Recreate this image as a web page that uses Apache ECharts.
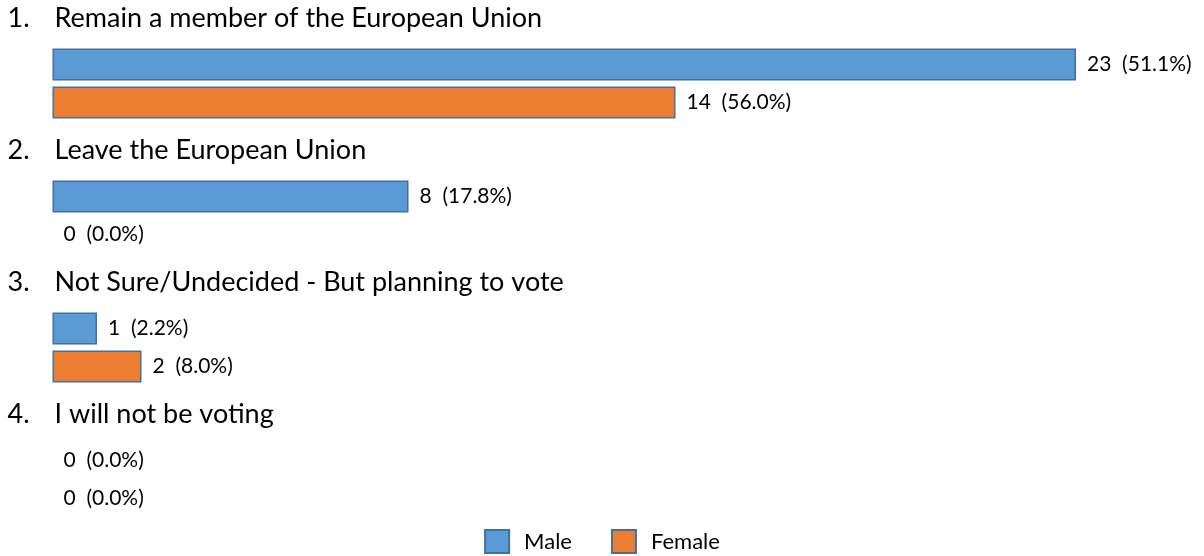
<!DOCTYPE html>
<html>
<head>
<meta charset="utf-8">
<script src="https://cdn.jsdelivr.net/npm/echarts@6/dist/echarts.min.js"></script>
<style>
  html, body { margin: 0; padding: 0; background: #ffffff; }
  #chart { width: 1204px; height: 556px; }
</style>
</head>
<body>
<div id="chart"></div>
<script>
// ---- data ----
const questions = [
  'Remain a member of the European Union',
  'Leave the European Union',
  'Not Sure/Undecided - But planning to vote',
  'I will not be voting'
];
const seriesNames = ['Male', 'Female'];
const maleCounts = [23, 8, 1, 0];
const malePct = [51.1, 17.8, 2.2, 0.0];
const femaleCounts = [14, 0, 2, 0];
const femalePct = [56.0, 0.0, 8.0, 0.0];

// ---- styles ----
const FONT = 'Lato';
const BORDER = '#41719C';
const colors = ['#5B9BD5', '#ED7D31'];

function makeData(counts) {
  return counts.map(v => v === 0 ? { value: v, itemStyle: { borderWidth: 0 } } : v);
}
function makeLabel(pcts) {
  return {
    show: true,
    position: 'right',
    distance: 11,
    color: '#000',
    fontFamily: FONT,
    fontSize: 21,
    formatter: p => p.value + '  (' + pcts[p.dataIndex].toFixed(1) + '%)'
  };
}

const chart = echarts.init(document.getElementById('chart'), null, { renderer: 'canvas' });
chart.setOption({
  animation: false,
  textStyle: { fontFamily: FONT },
  grid: { left: 52.5, top: 17.5, bottom: 10.5, width: 25 * 44.5 },
  xAxis: {
    type: 'value', min: 0, max: 25,
    show: false
  },
  yAxis: {
    type: 'category',
    inverse: true,
    data: questions,
    axisLine: { show: false },
    axisTick: { show: false },
    splitLine: { show: false },
    axisLabel: {
      interval: 0,
      align: 'left',
      margin: 45,
      padding: [0, 0, 130, 0],
      formatter: (v, i) => '{n|' + (i + 1) + '.}{t|' + v + '}',
      rich: {
        n: { width: 47, fontSize: 27, fontFamily: FONT, color: '#000' },
        t: { fontSize: 27, fontFamily: FONT, color: '#000' }
      }
    }
  },
  legend: {
    data: seriesNames,
    left: 'center',
    top: 524,
    icon: 'rect',
    itemWidth: 24,
    itemHeight: 23,
    itemGap: 39,
    textStyle: { fontFamily: FONT, fontSize: 22, color: '#000', padding: [0, 0, 0, 10] }
  },
  series: [
    {
      name: seriesNames[0],
      type: 'bar',
      data: makeData(maleCounts),
      barWidth: 32,
      barGap: '18.75%',
      itemStyle: { color: colors[0], borderColor: BORDER, borderWidth: 1.5 },
      label: makeLabel(malePct)
    },
    {
      name: seriesNames[1],
      type: 'bar',
      data: makeData(femaleCounts),
      barWidth: 32,
      barGap: '18.75%',
      itemStyle: { color: colors[1], borderColor: BORDER, borderWidth: 1.5 },
      label: makeLabel(femalePct)
    }
  ]
});
</script>
</body>
</html>
